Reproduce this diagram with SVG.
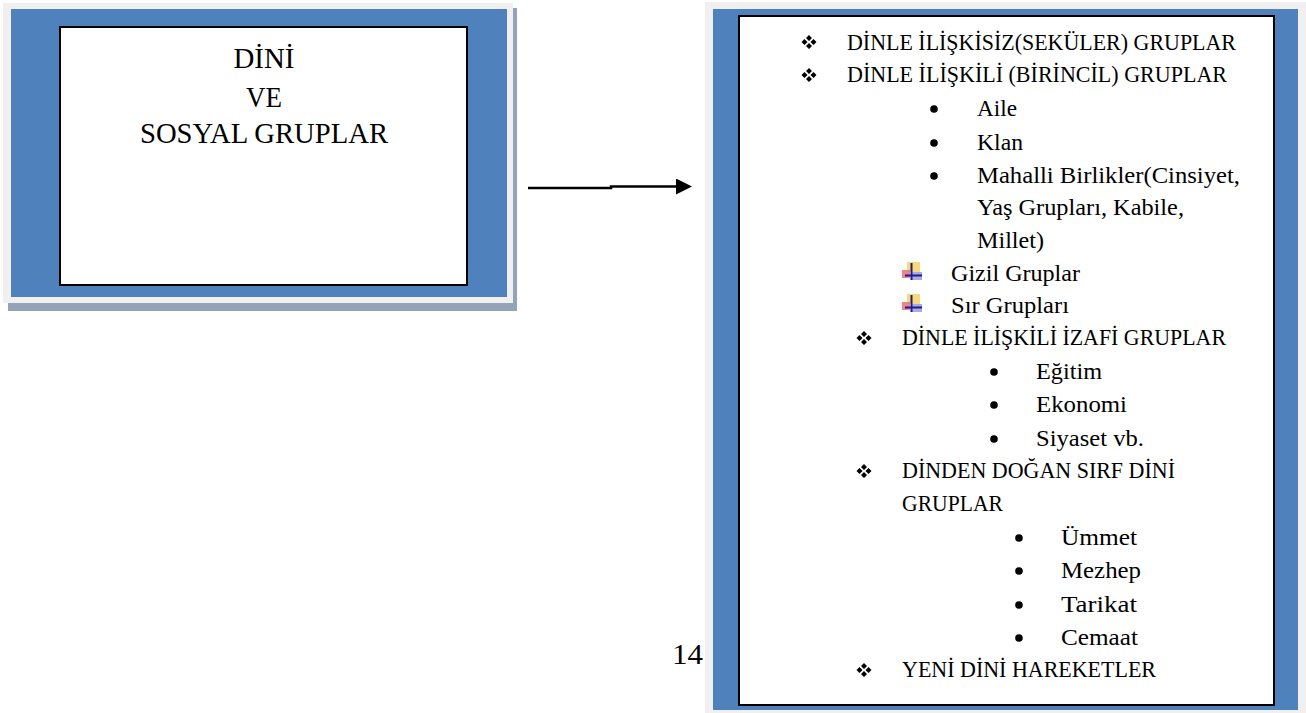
<svg xmlns="http://www.w3.org/2000/svg" xmlns:xlink="http://www.w3.org/1999/xlink" width="1306" height="713" viewBox="0 0 1306 713">
<style>
.frame{fill:#f0f0f0}
.shadow{fill:#95a3b8}
.blue{fill:#4f81bd}
.inner{fill:#ffffff;stroke:#000000;stroke-width:2}
.t{font-family:"Liberation Serif","Times New Roman",serif;fill:#000000}
.big{font-size:30px}
.li{font-size:23px}
.conn{fill:none;stroke:#000000;stroke-width:2.5}
</style>
<defs>
<marker id="arrow" markerUnits="userSpaceOnUse" viewBox="0 0 16 16" markerWidth="16" markerHeight="16" refX="1" refY="8" orient="auto">
<path d="M0,0 L16,8 L0,16 z" fill="#000000"/>
</marker>
<g id="dia">
<path d="M0,-7 L3,-4 L0,-1 L-3,-4 z M-4.5,-3 L-1.5,0 L-4.5,3 L-7.5,0 z M4.5,-3 L7.5,0 L4.5,3 L1.5,0 z M0,1 L3,4 L0,7 L-3,4 z" fill="#000000"/>
</g>
<g id="ico">
<rect x="5" y="0" width="13" height="10" fill="#f5d56a" opacity="0.9"/>
<rect x="0" y="8" width="8" height="8" fill="#e8707e" opacity="0.85"/>
<rect x="10" y="10" width="10" height="8" fill="#9a9ae8" opacity="0.85"/>
<rect x="8.5" y="1" width="2" height="17" fill="#1c1c8a"/>
<rect x="3" y="12.5" width="17" height="2" fill="#1c1c8a"/>
</g>
</defs>

<rect x="0" y="0" width="1306" height="713" fill="#ffffff"/>

<g id="node-left">
<rect class="shadow" x="8" y="8" width="509" height="303"/>
<rect class="frame" x="3" y="3" width="510" height="300"/>
<rect class="blue" x="11" y="9" width="496" height="288"/>
<rect class="inner" x="60" y="27" width="407" height="258"/>
<text class="t big" x="264" y="68" text-anchor="middle" textLength="61" lengthAdjust="spacingAndGlyphs">DİNİ</text>
<text class="t big" x="264" y="107" text-anchor="middle" textLength="36" lengthAdjust="spacingAndGlyphs">VE</text>
<text class="t big" x="264" y="143" text-anchor="middle" textLength="248" lengthAdjust="spacingAndGlyphs">SOSYAL GRUPLAR</text>
</g>

<g id="connectors">
<path class="conn" d="M528,188 H611 V186.5 H677" marker-end="url(#arrow)"/>
</g>

<g id="page-number">
<text class="t" x="672" y="664" font-size="30" textLength="31" lengthAdjust="spacingAndGlyphs">14</text>
</g>

<g id="node-right">
<rect class="frame" x="705" y="2" width="601" height="711"/>
<rect class="blue" x="713" y="9" width="585" height="701"/>
<rect class="inner" x="739" y="16" width="535" height="689"/>

<use xlink:href="#dia" x="809" y="42"/>
<text class="t li" x="847" y="50" textLength="389" lengthAdjust="spacingAndGlyphs">DİNLE İLİŞKİSİZ(SEKÜLER) GRUPLAR</text>
<use xlink:href="#dia" x="809" y="75"/>
<text class="t li" x="847" y="82" textLength="380" lengthAdjust="spacingAndGlyphs">DİNLE İLİŞKİLİ (BİRİNCİL) GRUPLAR</text>

<circle cx="934" cy="109" r="3.8"/>
<text class="t li" x="977" y="116" textLength="40" lengthAdjust="spacingAndGlyphs">Aile</text>
<circle cx="934" cy="143" r="3.8"/>
<text class="t li" x="977" y="150" textLength="46" lengthAdjust="spacingAndGlyphs">Klan</text>
<circle cx="934" cy="176" r="3.8"/>
<text class="t li" x="977" y="183" textLength="263" lengthAdjust="spacingAndGlyphs">Mahalli Birlikler(Cinsiyet,</text>
<text class="t li" x="977" y="215" textLength="207" lengthAdjust="spacingAndGlyphs">Yaş Grupları, Kabile,</text>
<text class="t li" x="977" y="248" textLength="67" lengthAdjust="spacingAndGlyphs">Millet)</text>

<use xlink:href="#ico" x="902" y="262"/>
<text class="t li" x="951" y="281" textLength="129" lengthAdjust="spacingAndGlyphs">Gizil Gruplar</text>
<use xlink:href="#ico" x="902" y="294"/>
<text class="t li" x="951" y="313" textLength="118" lengthAdjust="spacingAndGlyphs">Sır Grupları</text>

<use xlink:href="#dia" x="864" y="338"/>
<text class="t li" x="902" y="345" textLength="324" lengthAdjust="spacingAndGlyphs">DİNLE İLİŞKİLİ İZAFİ GRUPLAR</text>

<circle cx="994" cy="372" r="3.8"/>
<text class="t li" x="1036" y="379" textLength="66" lengthAdjust="spacingAndGlyphs">Eğitim</text>
<circle cx="994" cy="405" r="3.8"/>
<text class="t li" x="1036" y="412" textLength="91" lengthAdjust="spacingAndGlyphs">Ekonomi</text>
<circle cx="994" cy="439" r="3.8"/>
<text class="t li" x="1036" y="446" textLength="108" lengthAdjust="spacingAndGlyphs">Siyaset vb.</text>

<use xlink:href="#dia" x="864" y="471"/>
<text class="t li" x="902" y="478" textLength="273" lengthAdjust="spacingAndGlyphs">DİNDEN DOĞAN SIRF DİNİ</text>
<text class="t li" x="902" y="511" textLength="101" lengthAdjust="spacingAndGlyphs">GRUPLAR</text>

<circle cx="1019" cy="538" r="3.8"/>
<text class="t li" x="1061" y="545" textLength="76" lengthAdjust="spacingAndGlyphs">Ümmet</text>
<circle cx="1019" cy="571" r="3.8"/>
<text class="t li" x="1061" y="578" textLength="80" lengthAdjust="spacingAndGlyphs">Mezhep</text>
<circle cx="1019" cy="605" r="3.8"/>
<text class="t li" x="1061" y="612" textLength="76" lengthAdjust="spacingAndGlyphs">Tarikat</text>
<circle cx="1019" cy="638" r="3.8"/>
<text class="t li" x="1061" y="645" textLength="77" lengthAdjust="spacingAndGlyphs">Cemaat</text>

<use xlink:href="#dia" x="864" y="670"/>
<text class="t li" x="902" y="677" textLength="254" lengthAdjust="spacingAndGlyphs">YENİ DİNİ HAREKETLER</text>
</g>
</svg>
